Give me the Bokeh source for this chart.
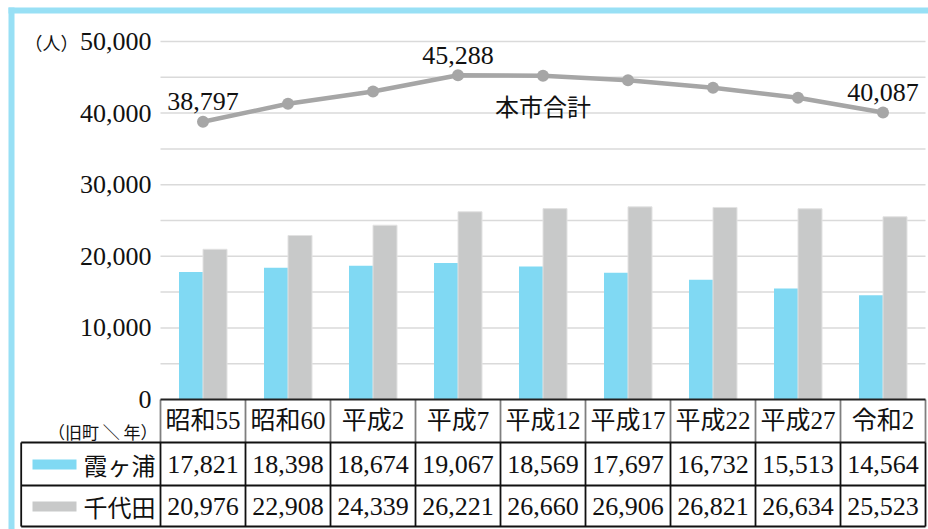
from bokeh.plotting import figure
from bokeh.models import Range1d
from bokeh.core.properties import value
from bokeh.embed import file_html
from bokeh.resources import INLINE

# ---- data ----
years = ["昭和55", "昭和60", "平成2", "平成7", "平成12", "平成17", "平成22", "平成27", "令和2"]
kasumigaura = [17821, 18398, 18674, 19067, 18569, 17697, 16732, 15513, 14564]
chiyoda = [20976, 22908, 24339, 26221, 26660, 26906, 26821, 26634, 25523]
total = [38797, 41306, 43013, 45288, 45229, 44603, 43553, 42147, 40087]
total_label_idx = [0, 3, 8]
y_ticks = [0, 10000, 20000, 30000, 40000, 50000]
grid_values = [5000, 10000, 15000, 20000, 25000, 30000, 35000, 40000, 45000, 50000]
series_names = ["霞ヶ浦", "千代田"]
total_name = "本市合計"
unit_label = "（人）"
corner_label = "（旧町 ＼ 年）"

# ---- styles ----
BLUE = "#80d9f3"
GRAY = "#c8c9c9"
LINE = "#a6a6a6"
FRAME = "#98e0f5"
GRID = "#dadada"
TXT = "#111111"
FONT = value("'Liberation Serif', 'Noto Sans CJK JP', serif")
CJK = value("'Noto Sans CJK JP', sans-serif")
NUM_SIZE = "26px"

# layout helpers (reference pixel -> data)
CAT_W = 85.0
CAT0 = 202.5
BASE_PY = 399.0
PX_PER_UNIT = 358.0 / 50000.0
W, H = 928, 529


def xpx(px):
    return (px - CAT0) / CAT_W


def ypx(py):
    return (BASE_PY - py) / PX_PER_UNIT


n = len(years)
idx = list(range(n))

p = figure(width=W, height=H, x_range=Range1d(xpx(0), xpx(W)),
           y_range=Range1d(ypx(H), ypx(0)), output_backend="svg",
           toolbar_location=None, x_axis_type=None, y_axis_type=None,
           min_border=0, outline_line_color=None,
           background_fill_color="white", border_fill_color="white")

# frame (blue strips top & left)
p.quad(left=[xpx(8), xpx(8)], right=[xpx(14), xpx(W)],
       bottom=[ypx(H), ypx(13)], top=[ypx(7), ypx(7)],
       fill_color=FRAME, line_color=None)

# gridlines
p.segment(x0=[-0.5] * len(grid_values), x1=[n - 0.5] * len(grid_values),
          y0=grid_values, y1=grid_values, line_color=GRID, line_width=1.5)

# bars
bw = 24.0 / CAT_W
p.vbar(x=[i - bw / 2 for i in idx], top=kasumigaura, bottom=0, width=bw,
       fill_color=BLUE, line_color=None)
p.vbar(x=[i + bw / 2 for i in idx], top=chiyoda, bottom=0, width=bw,
       fill_color=GRAY, line_color="#e2e2e2", line_width=1)

# total line
p.line(x=idx, y=total, line_color=LINE, line_width=4.5)
p.scatter(x=idx, y=total, size=12, fill_color=LINE, line_color=None)

# total labels
off = 20 / PX_PER_UNIT
p.text(x=[idx[i] for i in total_label_idx],
       y=[total[i] + off for i in total_label_idx],
       text=[f"{total[i]:,}" for i in total_label_idx],
       text_font=FONT, text_font_size=NUM_SIZE, text_align="center",
       text_baseline="alphabetic", text_color=TXT)
p.text(x=[4], y=[ypx(107)], text=[total_name], text_font=FONT,
       text_font_size="24px", text_align="center", text_baseline="middle",
       text_color=TXT)

# y tick labels
p.text(x=[xpx(151)] * len(y_ticks), y=y_ticks, text=[f"{v:,}" for v in y_ticks],
       text_font=FONT, text_font_size=NUM_SIZE, text_align="right",
       text_baseline="middle", text_color=TXT)
p.text(x=[xpx(78)], y=[y_ticks[-1]], text=[unit_label], text_font=CJK,
       text_font_size="18px", text_align="right", text_baseline="middle",
       text_color=TXT)
p.text(x=[xpx(157)], y=[ypx(431)], text=[corner_label], text_font=CJK,
       text_font_size="17px", text_align="right", text_baseline="middle",
       text_color=TXT)

# ---- table ----
bounds = [i - 0.5 for i in range(n + 1)]
hdr_top, hdr_bot = 0, ypx(442)
row_mid = ypx(485)
tbl_bot = ypx(526)
left_edge = xpx(20.7)

# header vertical separators (gray)
p.segment(x0=bounds, x1=bounds, y0=[hdr_top] * len(bounds), y1=[hdr_bot] * len(bounds),
          line_color="#7f7f7f", line_width=1.8)
# header top line
p.segment(x0=[-0.5], x1=[n - 0.5], y0=[0], y1=[0], line_color="#222222", line_width=1.8)
# body horizontal lines
p.segment(x0=[left_edge] * 3, x1=[n - 0.5] * 3, y0=[hdr_bot, row_mid, tbl_bot],
          y1=[hdr_bot, row_mid, tbl_bot], line_color="#111111", line_width=1.8)
# body vertical lines
vb = [left_edge] + bounds
p.segment(x0=vb, x1=vb, y0=[hdr_bot] * len(vb), y1=[tbl_bot] * len(vb),
          line_color="#111111", line_width=1.8)

# header texts
p.text(x=idx, y=[ypx(420)] * n, text=years, text_font=FONT, text_font_size="25px",
       text_align="center", text_baseline="middle", text_color=TXT)
# values
r2 = ypx(464)
r3 = ypx(506)
p.text(x=idx, y=[r2] * n, text=[f"{v:,}" for v in kasumigaura], text_font=FONT,
       text_font_size=NUM_SIZE, text_align="center", text_baseline="middle", text_color=TXT)
p.text(x=idx, y=[r3] * n, text=[f"{v:,}" for v in chiyoda], text_font=FONT,
       text_font_size=NUM_SIZE, text_align="center", text_baseline="middle", text_color=TXT)

# legend swatches and names
p.quad(left=[xpx(32)] * 2, right=[xpx(76)] * 2, bottom=[ypx(469), ypx(511)],
       top=[ypx(459), ypx(501)], fill_color=[BLUE, GRAY], line_color=None)
p.text(x=[xpx(155)] * 2, y=[r2, r3], text=series_names, text_font=CJK,
       text_font_size="24px", text_align="right", text_baseline="middle", text_color=TXT)

open("out.html", "w").write(file_html(p, INLINE))
